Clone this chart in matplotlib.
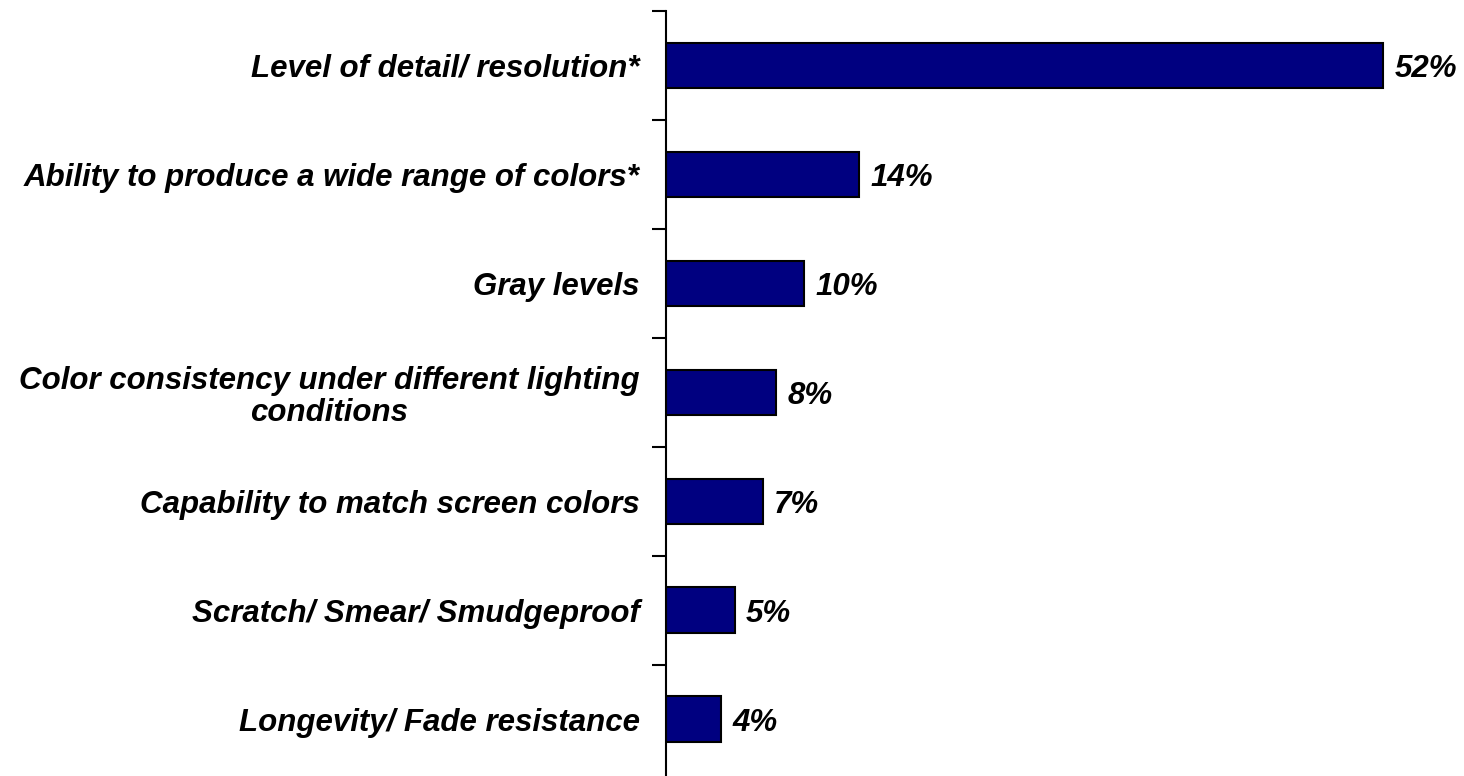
import numpy as np
import matplotlib.pyplot as plt

categories = [
    "Level of detail/ resolution*",
    "Ability to produce a wide range of colors*",
    "Gray levels",
    "Color consistency under different lighting\nconditions",
    "Capability to match screen colors",
    "Scratch/ Smear/ Smudgeproof",
    "Longevity/ Fade resistance",
]
values = [52, 14, 10, 8, 7, 5, 4]

plt.rcParams["font.family"] = ["Liberation Sans", "DejaVu Sans"]

fig = plt.figure(figsize=(14.64, 7.76), dpi=100)
ax = fig.add_axes([666 / 1464, 0.0, 1 - 666 / 1464 - 0.01, 765 / 776])

pos = np.arange(len(categories))
bars = ax.barh(pos, values, height=0.42, color="#000080",
               edgecolor="black", linewidth=1.5)

ax.set_ylim(len(categories) - 0.5 + 0.02, -0.5)
ax.set_xlim(0, 56.8)

# category labels sit at the bar centres, tick marks go between them
ax.set_yticks(pos)
ax.set_yticklabels(categories, fontsize=22.5, fontweight="bold",
                   fontstyle="italic", multialignment="center",
                   linespacing=1.1)
ax.tick_params(axis="y", which="major", length=0, pad=19)
ax.set_yticks(np.arange(-0.5, len(categories) - 0.5, 1), minor=True)
ax.tick_params(axis="y", which="minor", length=10, width=1.5, direction="out")
ax.set_xticks([])

for side in ["top", "right", "bottom"]:
    ax.spines[side].set_visible(False)
ax.spines["left"].set_linewidth(1.5)

for bar, v in zip(bars, values):
    ax.annotate(f"{v}%", (bar.get_width(), bar.get_y() + bar.get_height() / 2),
                xytext=(8, 0), textcoords="offset points",
                ha="left", va="center_baseline",
                fontsize=22.5, fontweight="bold", fontstyle="italic")

fig.savefig("out.png", dpi=100)
